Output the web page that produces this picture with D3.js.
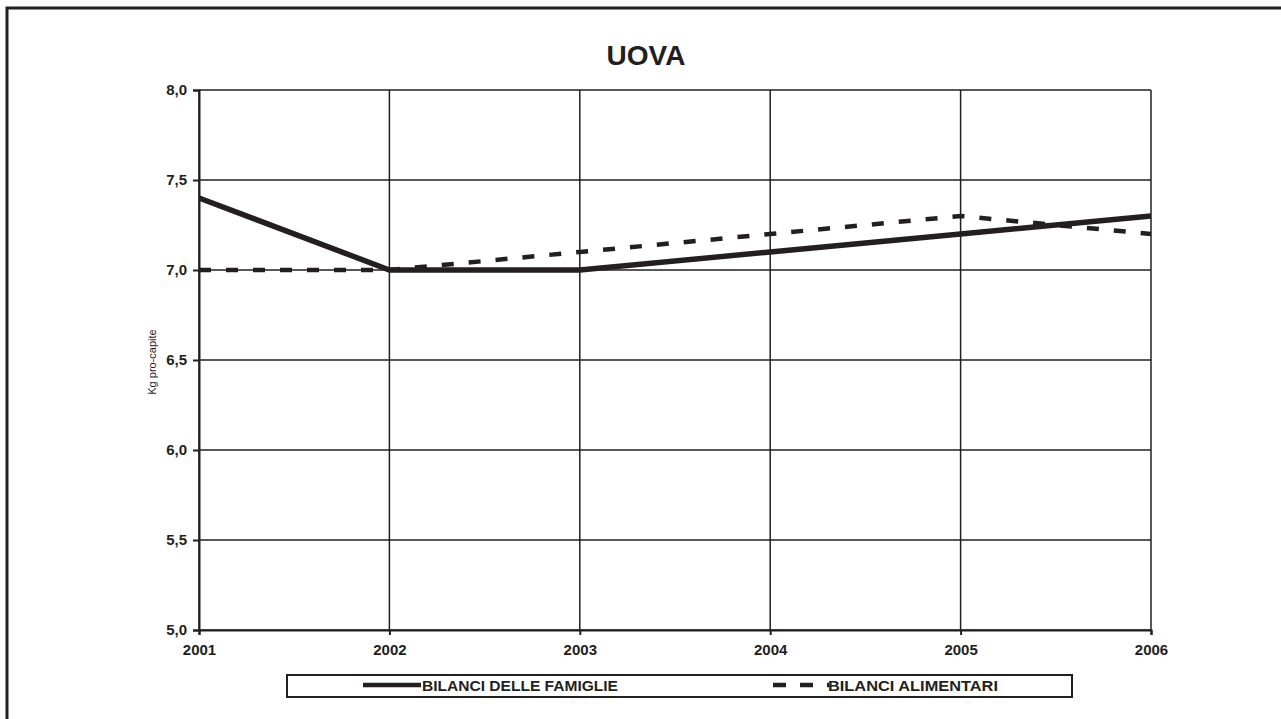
<!DOCTYPE html>
<html>
<head>
<meta charset="utf-8">
<script src="https://cdn.jsdelivr.net/npm/d3@7"></script>
<style>
  html, body { margin: 0; padding: 0; background: #fff; }
  svg { display: block; font-family: Arial, "Liberation Sans", sans-serif; }
</style>
</head>
<body>
<svg id="chart" width="1281" height="719"></svg>
<script>
// Egg consumption per capita, two survey sources
const years = [2001, 2002, 2003, 2004, 2005, 2006];
const famiglie = [7.4, 7.0, 7.0, 7.1, 7.2, 7.3];
const alimentari = [7.0, 7.0, 7.1, 7.2, 7.3, 7.2];
const yTicks = [5.0, 5.5, 6.0, 6.5, 7.0, 7.5, 8.0];
const seriesNames = ["BILANCI DELLE FAMIGLIE", "BILANCI ALIMENTARI"];

const svg = d3.select("#chart");
const ink = "#231f20";

// outer frame (runs off the right and bottom edges)
svg.append("rect")
  .attr("x", 7).attr("y", 8).attr("width", 1400).attr("height", 900)
  .attr("fill", "none").attr("stroke", ink).attr("stroke-width", 3);

const plot = { left: 199, right: 1151, top: 90, bottom: 630 };

const x = d3.scalePoint().domain(years).range([plot.left, plot.right]);
const y = d3.scaleLinear().domain([5, 8]).range([plot.bottom, plot.top]);

// title
svg.append("text")
  .attr("x", 646).attr("y", 65)
  .attr("text-anchor", "middle")
  .attr("font-size", 28).attr("font-weight", "bold").attr("fill", ink)
  .text("UOVA");

// grid
const grid = svg.append("g").attr("stroke", ink).attr("stroke-width", 1.5);
grid.selectAll("line.h").data(yTicks).join("line")
  .attr("class", "h")
  .attr("x1", plot.left).attr("x2", plot.right)
  .attr("y1", d => y(d)).attr("y2", d => y(d));
grid.selectAll("line.v").data(years).join("line")
  .attr("class", "v")
  .attr("x1", d => x(d)).attr("x2", d => x(d))
  .attr("y1", plot.top).attr("y2", plot.bottom);

// y axis
const yAxis = svg.append("g")
  .attr("transform", `translate(${plot.left},0)`)
  .call(d3.axisLeft(y).tickValues(yTicks).tickSize(6).tickPadding(6)
    .tickFormat(d => d3.format(".1f")(d).replace(".", ",")));
yAxis.select(".domain").attr("stroke", ink).attr("stroke-width", 2);
yAxis.selectAll(".tick line").attr("stroke", ink).attr("stroke-width", 2);
yAxis.selectAll(".tick text")
  .attr("font-size", 15).attr("font-weight", "bold").attr("fill", ink)
  .attr("font-family", "Arial, 'Liberation Sans', sans-serif");

// x axis
const xAxis = svg.append("g")
  .attr("transform", `translate(0,${plot.bottom})`)
  .call(d3.axisBottom(x).tickSize(5).tickPadding(9));
xAxis.select(".domain").attr("stroke", ink).attr("stroke-width", 2);
xAxis.selectAll(".tick line").attr("stroke", ink).attr("stroke-width", 2);
xAxis.selectAll(".tick text")
  .attr("font-size", 15).attr("font-weight", "bold").attr("fill", ink)
  .attr("font-family", "Arial, 'Liberation Sans', sans-serif");

// y axis title
svg.append("text")
  .attr("transform", "translate(156,362) rotate(-90)")
  .attr("text-anchor", "middle")
  .attr("font-size", 11).attr("fill", ink)
  .text("Kg pro-capite");

// series lines
const line = d3.line().x((d, i) => x(years[i])).y(d => y(d));

svg.append("path")
  .datum(alimentari)
  .attr("d", line)
  .attr("fill", "none").attr("stroke", ink).attr("stroke-width", 4.5)
  .attr("stroke-dasharray", "12,15");

svg.append("path")
  .datum(famiglie)
  .attr("d", line)
  .attr("fill", "none").attr("stroke", ink).attr("stroke-width", 5.5);

// legend
const lg = svg.append("g");
lg.append("rect")
  .attr("x", 287).attr("y", 675).attr("width", 785).attr("height", 22)
  .attr("fill", "#fff").attr("stroke", ink).attr("stroke-width", 2);

lg.append("line")
  .attr("x1", 363).attr("x2", 421).attr("y1", 685).attr("y2", 685)
  .attr("stroke", ink).attr("stroke-width", 4.5);
lg.append("text")
  .attr("x", 422).attr("y", 691)
  .attr("font-size", 15).attr("font-weight", "bold").attr("fill", ink)
  .attr("textLength", 196).attr("lengthAdjust", "spacingAndGlyphs")
  .text(seriesNames[0]);

lg.append("line")
  .attr("x1", 773).attr("x2", 829).attr("y1", 685).attr("y2", 685)
  .attr("stroke", ink).attr("stroke-width", 4.5)
  .attr("stroke-dasharray", "13,14");
lg.append("text")
  .attr("x", 828).attr("y", 691)
  .attr("font-size", 15).attr("font-weight", "bold").attr("fill", ink)
  .attr("textLength", 170).attr("lengthAdjust", "spacingAndGlyphs")
  .text(seriesNames[1]);
</script>
</body>
</html>
